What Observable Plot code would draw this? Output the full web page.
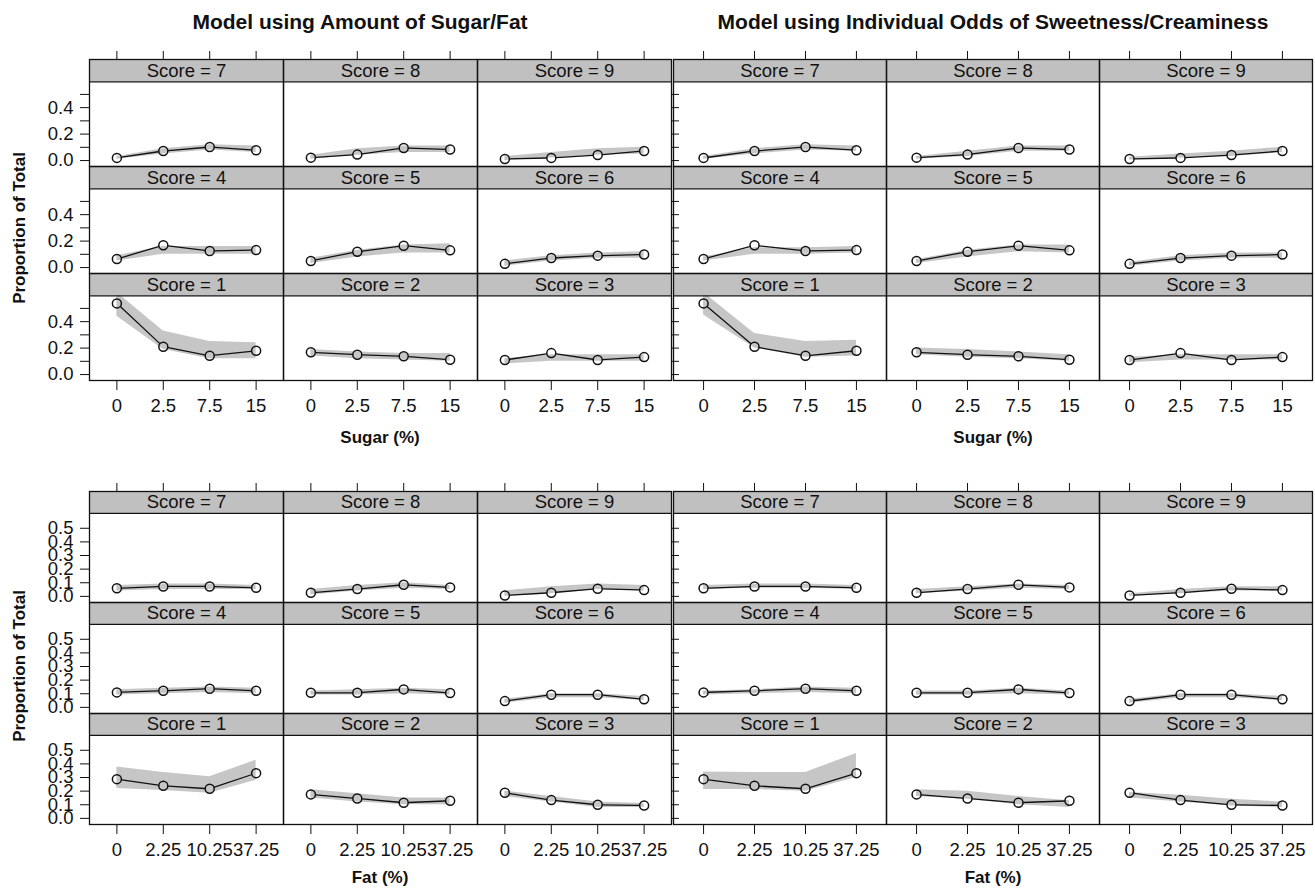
<!DOCTYPE html>
<html><head><meta charset="utf-8">
<script src="https://cdn.jsdelivr.net/npm/d3@7"></script>
<script src="https://cdn.jsdelivr.net/npm/@observablehq/plot@0.6"></script>
<style>
body{margin:0;background:#fff;}
#wrap{position:relative;width:1315px;height:891px;font-family:"Liberation Sans",Arial,sans-serif;color:#111;overflow:hidden;background:#fff}
#wrap svg{position:absolute;left:0;top:0;background:transparent}
.lab{position:absolute;white-space:nowrap;transform:translate(-50%,-50%)}
.title{font-weight:bold;font-size:21px}
.xlab{font-weight:bold;font-size:17px}
.ylab{font-weight:bold;font-size:17px;transform:translate(-50%,-50%) rotate(-90deg)}
</style></head>
<body><div id="wrap"></div>
<script>
// ---- data ----
const scores = [7, 8, 9, 4, 5, 6, 1, 2, 3];
const sugarLevels = ["0", "2.5", "7.5", "15"];
const fatLevels = ["0", "2.25", "10.25", "37.25"];
const yTicks = [0, 0.1, 0.2, 0.3, 0.4, 0.5];

// observed proportions (rows follow `scores`)
const sugarObs = [
  [0.020, 0.072, 0.102, 0.078],
  [0.022, 0.045, 0.095, 0.083],
  [0.012, 0.020, 0.042, 0.072],
  [0.065, 0.168, 0.125, 0.132],
  [0.050, 0.120, 0.165, 0.130],
  [0.028, 0.072, 0.090, 0.098],
  [0.538, 0.210, 0.142, 0.180],
  [0.168, 0.150, 0.138, 0.112],
  [0.110, 0.162, 0.110, 0.132]
];
const fatObs = [
  [0.059, 0.073, 0.073, 0.063],
  [0.027, 0.054, 0.085, 0.066],
  [0.007, 0.027, 0.056, 0.046],
  [0.110, 0.122, 0.137, 0.122],
  [0.107, 0.107, 0.132, 0.105],
  [0.046, 0.093, 0.093, 0.059],
  [0.288, 0.239, 0.217, 0.332],
  [0.176, 0.146, 0.115, 0.129],
  [0.188, 0.134, 0.100, 0.095]
];
// model bands
const sugarM1Lo = [[0.01,0.05,0.08,0.06],[0.01,0.04,0.06,0.06],[0.0,0.02,0.04,0.05],[0.05,0.10,0.10,0.10],[0.03,0.08,0.11,0.11],[0.01,0.05,0.07,0.07],[0.44,0.19,0.12,0.12],[0.14,0.12,0.11,0.10],[0.08,0.10,0.10,0.10]];
const sugarM1Hi = [[0.03,0.09,0.12,0.11],[0.04,0.09,0.11,0.11],[0.03,0.06,0.09,0.10],[0.09,0.16,0.16,0.16],[0.07,0.13,0.17,0.18],[0.05,0.09,0.11,0.12],[0.62,0.33,0.25,0.24],[0.19,0.17,0.16,0.16],[0.12,0.15,0.15,0.15]];
const sugarM2Lo = [[0.01,0.05,0.08,0.07],[0.01,0.03,0.07,0.07],[0.005,0.02,0.03,0.06],[0.05,0.10,0.10,0.11],[0.03,0.08,0.12,0.11],[0.01,0.05,0.07,0.07],[0.45,0.20,0.13,0.14],[0.15,0.13,0.12,0.10],[0.09,0.11,0.11,0.11]];
const sugarM2Hi = [[0.03,0.09,0.12,0.11],[0.03,0.07,0.11,0.11],[0.025,0.05,0.07,0.10],[0.08,0.15,0.15,0.16],[0.06,0.13,0.17,0.17],[0.04,0.09,0.11,0.11],[0.62,0.31,0.25,0.26],[0.20,0.19,0.17,0.15],[0.13,0.15,0.15,0.15]];
const fatM1Lo = [[0.04,0.05,0.05,0.05],[0.01,0.04,0.06,0.05],[0.0,0.02,0.05,0.04],[0.09,0.10,0.11,0.10],[0.09,0.09,0.10,0.09],[0.03,0.07,0.07,0.05],[0.22,0.205,0.185,0.28],[0.15,0.12,0.10,0.10],[0.16,0.12,0.08,0.08]];
const fatM1Hi = [[0.08,0.09,0.09,0.08],[0.05,0.08,0.10,0.08],[0.04,0.07,0.09,0.08],[0.13,0.14,0.15,0.14],[0.12,0.13,0.14,0.13],[0.06,0.10,0.10,0.08],[0.378,0.337,0.305,0.427],[0.21,0.18,0.15,0.15],[0.20,0.16,0.12,0.11]];
const fatM2Lo = [[0.05,0.06,0.06,0.05],[0.02,0.04,0.06,0.05],[0.0,0.02,0.04,0.04],[0.09,0.10,0.11,0.10],[0.09,0.09,0.10,0.09],[0.03,0.07,0.07,0.05],[0.212,0.212,0.20,0.30],[0.16,0.14,0.10,0.08],[0.15,0.12,0.09,0.08]];
const fatM2Hi = [[0.08,0.09,0.09,0.08],[0.05,0.07,0.09,0.08],[0.02,0.05,0.07,0.07],[0.12,0.13,0.15,0.14],[0.12,0.12,0.14,0.12],[0.06,0.10,0.10,0.08],[0.34,0.337,0.337,0.476],[0.21,0.20,0.16,0.13],[0.19,0.17,0.14,0.12]];

const titles = ["Model using Amount of Sugar/Fat", "Model using Individual Odds of Sweetness/Creaminess"];
const xTitles = ["Sugar (%)", "Fat (%)"];
const yTitle = "Proportion of Total";

// ---- layout ----
const W = 1315, H = 891;
const INK = "#111";
const wrap = document.getElementById("wrap");

function block({obs, lo, hi, levels, frame, yDomain, stripBottom, left, labelAll}) {
  const [l, t, r, b] = frame;
  const rows = scores.flatMap((s, i) => levels.map((lv, j) => ({
    score: s, col: i % 3, row: Math.floor(i / 3), xi: j + 1,
    obs: obs[i][j], lo: lo[i][j], hi: hi[i][j]
  })));
  const segs = scores.flatMap((s, i) => [0, 1, 2].map(j => ({
    col: i % 3, row: Math.floor(i / 3),
    x1: j + 1, y1: obs[i][j], x2: j + 2, y2: obs[i][j + 1]
  })));
  const strips = scores.map((s, i) => ({score: s, col: i % 3, row: Math.floor(i / 3)}));
  const fc = {fx: "col", fy: "row"};
  const marks = [
    Plot.areaY(rows, {x: "xi", y1: "lo", y2: "hi", ...fc, fill: "#c6c6c6"}),
    Plot.arrow(segs, {x1: "x1", y1: "y1", x2: "x2", y2: "y2", ...fc, headLength: 0,
      insetStart: 5, insetEnd: 5, stroke: INK, strokeWidth: 1.3}),
    Plot.dot(rows, {x: "xi", y: "obs", ...fc, r: 4.5, stroke: INK, strokeWidth: 1.5, fill: "none"}),
    Plot.rect(strips, {y1: () => stripBottom, y2: () => yDomain[1], ...fc, fill: "#c0c0c0"}),
    Plot.ruleY(strips, {y: () => stripBottom, ...fc, stroke: INK, strokeWidth: 1.3}),
    Plot.text(strips, {text: d => `Score = ${d.score}`, x: () => 2.5,
      y: () => (stripBottom + yDomain[1]) / 2, ...fc, fill: INK, lineAnchor: "middle"}),
    Plot.frame({stroke: INK, strokeWidth: 1.3}),
    Plot.axisX({anchor: "bottom", ticks: [1, 2, 3, 4], tickFormat: d => levels[d - 1],
      tickSize: 10, tickPadding: 8, label: null, stroke: INK, fill: INK}),
    Plot.axisX({anchor: "top", ticks: [1, 2, 3, 4], tickFormat: () => "",
      tickSize: 9, label: null, stroke: INK})
  ];
  if (left) {
    marks.push(
      Plot.axisY({anchor: "left", ticks: yTicks,
        tickFormat: d => (labelAll || Math.round(d * 10) % 2 === 0) ? d.toFixed(1) : "",
        tickSize: 9, tickPadding: 7, label: null, stroke: INK, fill: INK}),
      Plot.axisY({anchor: "right", ticks: yTicks, tickFormat: () => "",
        tickSize: 7, label: null, stroke: INK})
    );
  }
  const svg = Plot.plot({
    width: W, height: H,
    marginLeft: l, marginTop: t, marginRight: W - r, marginBottom: H - b,
    style: {fontSize: "18.5px", fontFamily: '"Liberation Sans", Arial, sans-serif',
      color: INK, background: "transparent"},
    fx: {domain: [0, 1, 2], padding: 0, axis: null},
    fy: {domain: [0, 1, 2], padding: 0, axis: null},
    x: {type: "linear", domain: [0.41, 4.59], axis: left ? undefined : null},
    y: {type: "linear", domain: yDomain, axis: left ? undefined : null},
    marks
  });
  wrap.appendChild(svg);
}

const topY = [-0.045, 0.764], topStrip = 0.595;
const botY = [-0.045, 0.770], botStrip = 0.609;

block({obs: sugarObs, lo: sugarM1Lo, hi: sugarM1Hi, levels: sugarLevels,
  frame: [88, 58.3, 671, 381.7], yDomain: topY, stripBottom: topStrip, left: true, labelAll: false});
block({obs: sugarObs, lo: sugarM2Lo, hi: sugarM2Hi, levels: sugarLevels,
  frame: [672, 58.3, 1312.5, 381.7], yDomain: topY, stripBottom: topStrip, left: false});
block({obs: fatObs, lo: fatM1Lo, hi: fatM1Hi, levels: fatLevels,
  frame: [88, 490.7, 671, 824.6], yDomain: botY, stripBottom: botStrip, left: true, labelAll: true});
block({obs: fatObs, lo: fatM2Lo, hi: fatM2Hi, levels: fatLevels,
  frame: [672, 490.7, 1312.5, 824.6], yDomain: botY, stripBottom: botStrip, left: false});

function label(text, cls, x, y) {
  const d = document.createElement("div");
  d.className = "lab " + cls;
  d.textContent = text;
  d.style.left = x + "px";
  d.style.top = y + "px";
  wrap.appendChild(d);
}
label(titles[0], "title", 360, 22);
label(titles[1], "title", 993, 22);
label(xTitles[0], "xlab", 380, 438);
label(xTitles[0], "xlab", 993, 438);
label(xTitles[1], "xlab", 380, 878);
label(xTitles[1], "xlab", 993, 878);
label(yTitle, "ylab", 20, 228);
label(yTitle, "ylab", 20, 666);
</script>
</body></html>
